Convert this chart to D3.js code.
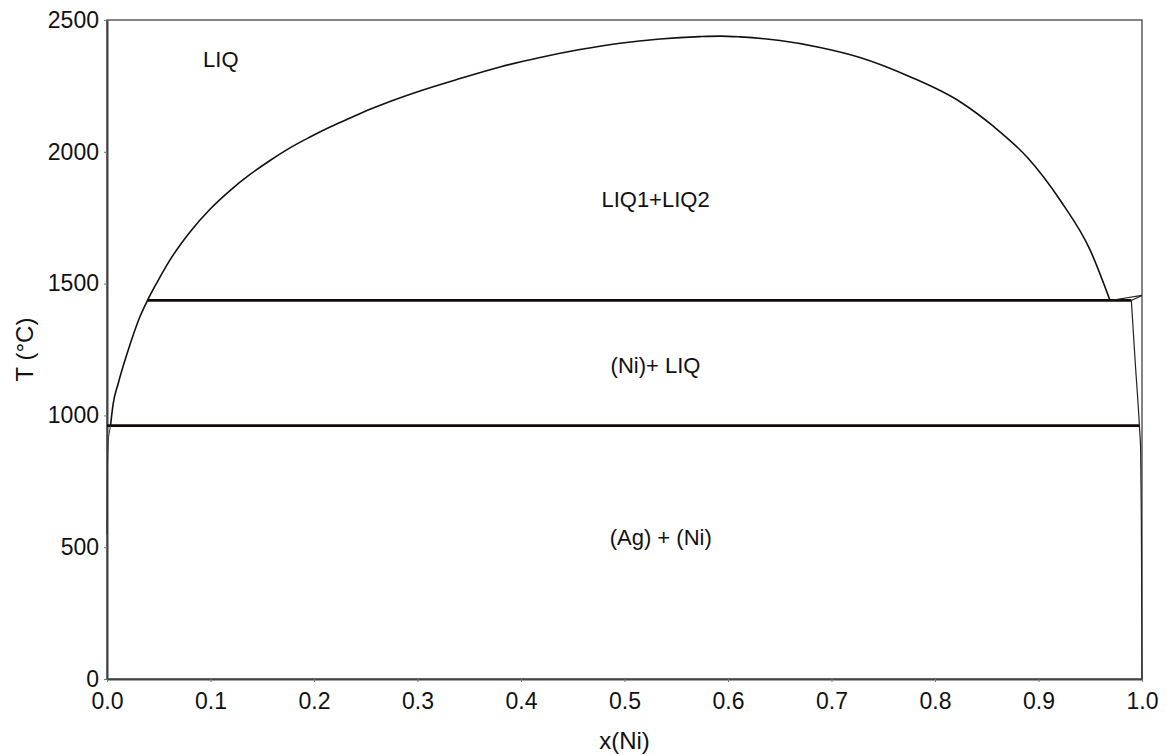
<!DOCTYPE html>
<html>
<head>
<meta charset="utf-8">
<script src="https://cdn.jsdelivr.net/npm/d3@7/dist/d3.min.js"></script>
<style>
  html, body { margin: 0; padding: 0; background: #fff; }
  svg { display: block; font-family: "Liberation Sans", Arial, sans-serif; }
</style>
</head>
<body>
<svg id="chart" width="1167" height="755"></svg>
<script>
// ---- data ----
const xTicks = [0.0, 0.1, 0.2, 0.3, 0.4, 0.5, 0.6, 0.7, 0.8, 0.9, 1.0];
const yTicks = [0, 500, 1000, 1500, 2000, 2500];

// liquid miscibility gap (LIQ1+LIQ2 dome), including Ag-side liquidus below monotectic
const gapX = [0.0034, 0.0058, 0.0109, 0.0206, 0.0319, 0.0391, 0.0480, 0.0609, 0.0802, 0.0995, 0.1188, 0.1382, 0.1575, 0.1768, 0.1961, 0.2155, 0.2348, 0.2541, 0.2734, 0.3024, 0.3411, 0.3797, 0.4184, 0.4570, 0.4957, 0.5343, 0.5729, 0.5923, 0.6116, 0.6502, 0.6889, 0.7275, 0.7758, 0.8242, 0.8560, 0.8891, 0.9208, 0.9498, 0.9691];
const gapT = [961, 1040, 1122, 1249, 1375, 1436, 1502, 1590, 1696, 1782, 1853, 1914, 1967, 2015, 2056, 2094, 2128, 2161, 2191, 2231, 2278, 2322, 2358, 2388, 2412, 2428, 2437, 2439, 2436, 2422, 2396, 2358, 2285, 2190, 2098, 1979, 1817, 1628, 1436];

// invariant lines
const monotecticT = 1436;
const monotecticX = [0.0391, 0.9897];
const eutecticT = 961;
const eutecticX = [0.0, 0.9975];

// Ni-side liquidus and solidus (monotectic -> Ni melting point)
const niLiqX = [0.9691, 1.0];
const niLiqT = [1436, 1455];
const niSolX = [0.9897, 1.0];
const niSolT = [1436, 1455];

// (Ni) solvus
const niSolvX = [0.9897, 0.9935, 0.9975, 0.9987, 0.9995, 1.0];
const niSolvT = [1436, 1200, 961, 870, 500, 0];

// (Ag) solvus
const agSolvX = [0.0034, 0.0012, 0.0003, 0.0];
const agSolvT = [961, 900, 750, 550];

const regionLabels = [
  {text: "LIQ", x: 0.110, T: 2320},
  {text: "LIQ1+LIQ2", x: 0.530, T: 1790},
  {text: "(Ni)+ LIQ", x: 0.530, T: 1160},
  {text: "(Ag) + (Ni)", x: 0.535, T: 510}
];

// ---- layout ----
const W = 1167, H = 755;
const margin = {left: 107, right: 25, top: 20, bottom: 76};
const svg = d3.select("#chart");
const x = d3.scaleLinear().domain([0, 1]).range([margin.left, W - margin.right]);
const y = d3.scaleLinear().domain([0, 2500]).range([H - margin.bottom, margin.top]);

const zip = (xs, ts) => xs.map((v, i) => [v, ts[i]]);
const line = d3.line().x(d => x(d[0])).y(d => y(d[1]));
const smoothX = d3.line().x(d => x(d[0])).y(d => y(d[1])).curve(d3.curveMonotoneX);
const smoothY = d3.line().x(d => x(d[0])).y(d => y(d[1])).curve(d3.curveMonotoneY);

// frame
svg.append("rect")
  .attr("x", x(0)).attr("y", y(2500))
  .attr("width", x(1) - x(0)).attr("height", y(0) - y(2500))
  .attr("fill", "none").attr("stroke", "#666").attr("stroke-width", 1.6);

// axes
const xAxis = d3.axisBottom(x).tickValues(xTicks).tickFormat(d3.format(".1f")).tickSizeOuter(0).tickSizeInner(3).tickPadding(11);
const yAxis = d3.axisLeft(y).tickValues(yTicks).tickFormat(d3.format("d")).tickSizeOuter(0).tickSizeInner(3).tickPadding(5);

const gx = svg.append("g").attr("transform", `translate(0,${y(0)})`).call(xAxis);
const gy = svg.append("g").attr("transform", `translate(${x(0)},0)`).call(yAxis);
[gx, gy].forEach(g => {
  g.select(".domain").attr("stroke", "#444").attr("stroke-width", 2);
  g.selectAll(".tick line").attr("stroke", "#777").attr("stroke-width", 1);
  g.selectAll(".tick text").attr("fill", "#111").attr("font-size", 23)
    .attr("font-family", "'Liberation Sans', Arial, sans-serif");
});

// axis titles
svg.append("text")
  .attr("x", x(0.5)).attr("y", 749)
  .attr("text-anchor", "middle").attr("font-size", 24).attr("fill", "#111")
  .text("x(Ni)");
svg.append("text")
  .attr("transform", `translate(33,${(y(0) + y(2500)) / 2}) rotate(-90)`)
  .attr("text-anchor", "middle").attr("font-size", 24).attr("fill", "#111")
  .text("T (°C)");

// phase boundaries
const g = svg.append("g").attr("fill", "none").attr("stroke-linejoin", "round");

g.append("path").datum(zip(gapX, gapT)).attr("d", smoothX)
  .attr("stroke", "#111").attr("stroke-width", 1.6);

g.append("path").datum(zip(monotecticX, [monotecticT, monotecticT])).attr("d", line)
  .attr("stroke", "#140808").attr("stroke-width", 2.7);
g.append("path").datum(zip(eutecticX, [eutecticT, eutecticT])).attr("d", line)
  .attr("stroke", "#140808").attr("stroke-width", 2.7);

g.append("path").datum(zip(niLiqX, niLiqT)).attr("d", line)
  .attr("stroke", "#222").attr("stroke-width", 1.2);
g.append("path").datum(zip(niSolX, niSolT)).attr("d", line)
  .attr("stroke", "#222").attr("stroke-width", 1.2);
g.append("path").datum(zip(niSolvX, niSolvT)).attr("d", smoothY)
  .attr("stroke", "#222").attr("stroke-width", 1.2);
g.append("path").datum(zip(agSolvX, agSolvT)).attr("d", smoothY)
  .attr("stroke", "#333").attr("stroke-width", 1.0);

// region labels
svg.append("g").selectAll("text").data(regionLabels).join("text")
  .attr("x", d => x(d.x)).attr("y", d => y(d.T))
  .attr("text-anchor", "middle").attr("font-size", 22).attr("fill", "#111")
  .text(d => d.text);
</script>
</body>
</html>
